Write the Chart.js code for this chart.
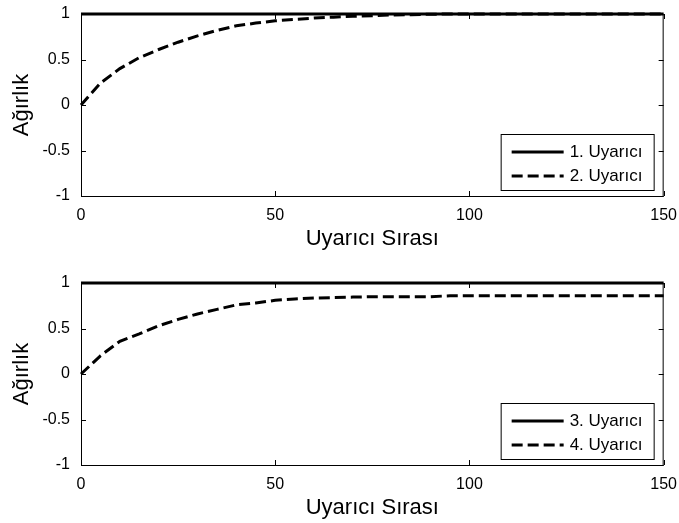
<!DOCTYPE html>
<html>
<head>
<meta charset="utf-8">
<script src="https://cdn.jsdelivr.net/npm/chart.js@4.4.1/dist/chart.umd.min.js"></script>
<style>
  html, body { margin: 0; padding: 0; background: #fff; overflow: hidden; }
  #wrap { position: relative; width: 679px; height: 523px; }
  .box { position: absolute; left: 0; width: 679px; height: 262px; }
</style>
</head>
<body>
<div id="wrap">
  <div class="box" style="top:0"><canvas id="ust"></canvas></div>
  <div class="box" style="top:269px"><canvas id="alt"></canvas></div>
</div>
<script>
// Uyarıcı sırası (x ekseni)
let sira = [0, 5, 10, 15, 20, 25, 30, 35, 40, 45, 50, 55, 60, 65, 70, 75,
            80, 85, 90, 95, 100, 105, 110, 115, 120, 125, 130, 135, 140, 145, 150];

// Ağırlıklar
let uyarici1 = [1, 1, 1, 1, 1, 1, 1, 1, 1, 1, 1, 1, 1, 1, 1, 1,
                1, 1, 1, 1, 1, 1, 1, 1, 1, 1, 1, 1, 1, 1, 1];
let uyarici2 = [0, 0.24, 0.40, 0.52, 0.61, 0.69, 0.76, 0.82, 0.87, 0.90, 0.925, 0.94, 0.955, 0.965, 0.975, 0.98,
                0.99, 0.993, 0.997, 1, 1, 1, 1, 1, 1, 1, 1, 1, 1, 1, 1];
let uyarici3 = [1, 1, 1, 1, 1, 1, 1, 1, 1, 1, 1, 1, 1, 1, 1, 1,
                1, 1, 1, 1, 1, 1, 1, 1, 1, 1, 1, 1, 1, 1, 1];
let uyarici4 = [0, 0.20, 0.36, 0.44, 0.53, 0.60, 0.66, 0.71, 0.76, 0.78, 0.81, 0.825, 0.835, 0.84, 0.845, 0.85,
                0.85, 0.85, 0.85, 0.86, 0.86, 0.86, 0.86, 0.86, 0.86, 0.86, 0.86, 0.86, 0.86, 0.86, 0.86];

// Eksen işaretleri
let xTikler = [0, 50, 100, 150];
let yTikler = [-1, -0.5, 0, 0.5, 1];

let yaziTipi = '"Liberation Sans", Arial, sans-serif';

// MATLAB tarzı kutu, içe doğru tikler ve sağ alttaki lejant
let kutuEklentisi = {
    id: 'kutu',
    beforeDatasetsDraw(chart) {
        let ctx = chart.ctx;
        let a = chart.chartArea;
        let xs = chart.scales.x, ys = chart.scales.y;
        ctx.save();
        ctx.strokeStyle = '#000';
        ctx.lineWidth = 1;
        ctx.strokeRect(a.left + 0.5, a.top + 0.5, a.right - a.left - 1, a.bottom - a.top);
        ctx.beginPath();
        xTikler.forEach(v => {
            let px = Math.round(xs.getPixelForValue(v)) + 0.5;
            ctx.moveTo(px, a.bottom); ctx.lineTo(px, a.bottom - 5);
            ctx.moveTo(px, a.top); ctx.lineTo(px, a.top + 5);
        });
        yTikler.forEach(v => {
            let py = Math.round(ys.getPixelForValue(v)) + 0.5;
            ctx.moveTo(a.left, py); ctx.lineTo(a.left + 5, py);
            ctx.moveTo(a.right, py); ctx.lineTo(a.right - 5, py);
        });
        ctx.stroke();
        ctx.restore();
    },
    afterDatasetsDraw(chart) {
        let ctx = chart.ctx;
        let a = chart.chartArea;
        ctx.save();
        ctx.strokeStyle = '#000';
        ctx.lineWidth = 1;
        // lejant
        let w = 153, h = 56;
        let lx = a.right - 10 - w, ly = a.bottom - 6 - h;
        ctx.fillStyle = '#fff';
        ctx.fillRect(lx, ly, w, h);
        ctx.strokeRect(lx + 0.5, ly + 0.5, w, h);
        ctx.font = '17px ' + yaziTipi;
        ctx.textBaseline = 'middle';
        ctx.fillStyle = '#000';
        chart.data.datasets.forEach((ds, i) => {
            let ry = ly + 18 + i * 24;
            ctx.beginPath();
            ctx.lineWidth = 3;
            ctx.setLineDash(ds.borderDash || []);
            ctx.moveTo(lx + 11, ry); ctx.lineTo(lx + 63, ry);
            ctx.stroke();
            ctx.setLineDash([]);
            ctx.fillText(ds.label, lx + 69, ry);
        });
        ctx.restore();
    }
};

function grafik(id, ad1, veri1, ad2, veri2) {
    return new Chart(document.getElementById(id), {
        type: 'line',
        data: {
            labels: sira,
            datasets: [{
                label: ad1,
                data: veri1,
                borderColor: '#000',
                borderWidth: 3,
                pointRadius: 0,
                tension: 0,
                clip: 4
            }, {
                label: ad2,
                data: veri2,
                borderColor: '#000',
                borderWidth: 3,
                borderDash: [11, 5],
                pointRadius: 0,
                tension: 0,
                clip: 4
            }]
        },
        options: {
            responsive: true,
            maintainAspectRatio: false,
            animation: false,
            layout: { padding: { top: 14, right: 13, left: 0, bottom: 0 } },
            plugins: {
                legend: { display: false },
                tooltip: { enabled: false }
            },
            scales: {
                x: {
                    type: 'linear',
                    min: 0,
                    max: 150,
                    afterBuildTicks: s => { s.ticks = xTikler.map(v => ({ value: v })); },
                    afterFit: s => { s.height = 66; },
                    grid: { display: false },
                    border: { display: false },
                    ticks: { color: '#000', padding: 2, maxRotation: 0, font: { family: yaziTipi, size: 16 } },
                    title: {
                        display: true,
                        text: 'Uyarıcı Sırası',
                        color: '#000',
                        padding: { top: 0, bottom: 10 },
                        font: { family: yaziTipi, size: 22 }
                    }
                },
                y: {
                    min: -1,
                    max: 1,
                    afterBuildTicks: s => { s.ticks = yTikler.map(v => ({ value: v })); },
                    afterFit: s => { s.width = 81; },
                    grid: { display: false },
                    border: { display: false },
                    ticks: {
                        color: '#000',
                        padding: 3,
                        font: { family: yaziTipi, size: 16 },
                        callback: v => String(v)
                    },
                    title: {
                        display: true,
                        text: 'Ağırlık',
                        color: '#000',
                        padding: { top: 9, bottom: 0 },
                        font: { family: yaziTipi, size: 22 }
                    }
                }
            }
        },
        plugins: [kutuEklentisi]
    });
}

grafik('ust', '1. Uyarıcı', uyarici1, '2. Uyarıcı', uyarici2);
grafik('alt', '3. Uyarıcı', uyarici3, '4. Uyarıcı', uyarici4);
</script>
</body>
</html>
